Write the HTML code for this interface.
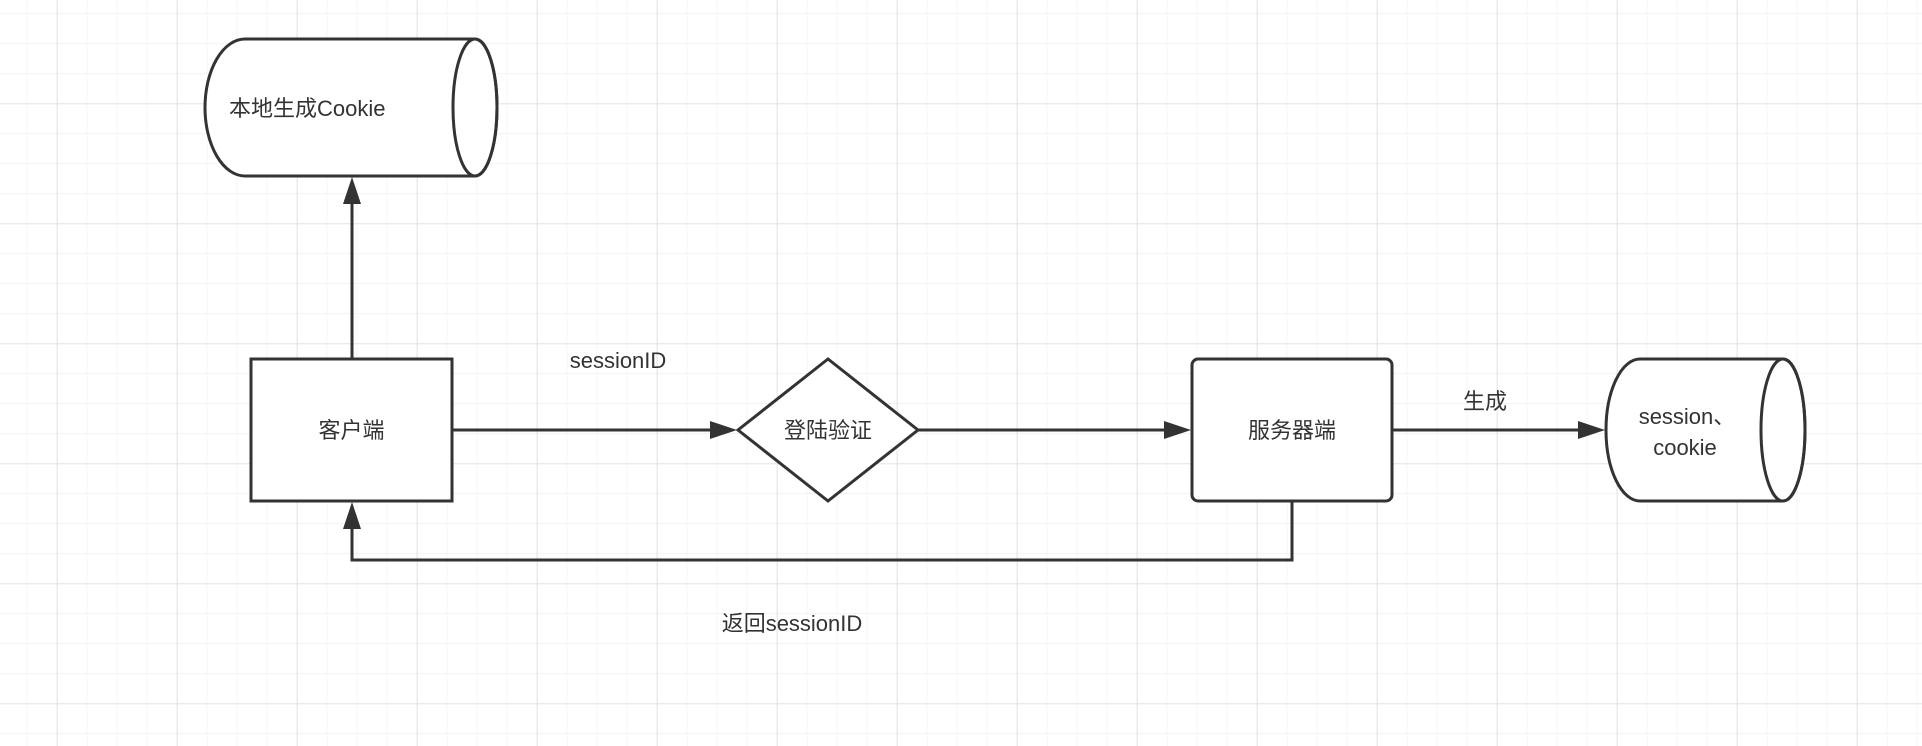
<!DOCTYPE html>
<html><head><meta charset="utf-8"><style>
html,body{margin:0;padding:0;background:#fff;}
svg{display:block;}
text{font-family:"Liberation Sans","Noto Sans CJK SC",sans-serif;font-size:22px;fill:#333;}
</style></head><body>
<svg width="1922" height="746" viewBox="0 0 1922 746" xmlns="http://www.w3.org/2000/svg">
<defs>
<pattern id="minor" x="26.7" y="13.3" width="30" height="30" patternUnits="userSpaceOnUse">
<path d="M0 0V30M0 0H30" stroke="#ececec" stroke-width="1.2" fill="none"/>
</pattern>
<pattern id="major" x="56.7" y="103.3" width="120" height="120" patternUnits="userSpaceOnUse">
<path d="M0 0V120M0 0H120" stroke="#e4e4e4" stroke-width="2" fill="none"/>
</pattern>
<marker id="ah" markerWidth="10" markerHeight="10" refX="9" refY="5" orient="auto" markerUnits="userSpaceOnUse">
</marker>
</defs>
<rect width="1922" height="746" fill="url(#minor)"/>
<rect width="1922" height="746" fill="url(#major)"/>
<g stroke="#333" stroke-width="3" fill="none">
<!-- cylinder 1 -->
<path d="M245 39 H475 A22 68.5 0 0 1 475 176 H245 A40 68.5 0 0 1 245 39 Z" fill="#fff"/>
<ellipse cx="475" cy="107.5" rx="22" ry="68.5"/>
<!-- client -->
<rect x="251" y="359" width="201" height="142" fill="#fff"/>
<!-- diamond -->
<path d="M828 359 L918 430 L828 501 L738 430 Z" fill="#fff"/>
<!-- server -->
<rect x="1192" y="359" width="200" height="142" rx="6" fill="#fff"/>
<!-- cylinder 2 -->
<path d="M1640 359 H1783 A22 71 0 0 1 1783 501 H1640 A34 71 0 0 1 1640 359 Z" fill="#fff"/>
<ellipse cx="1783" cy="430" rx="22" ry="71"/>
<!-- connectors -->
<path d="M352 359 V195"/>
<path d="M452 430 H715"/>
<path d="M918 430 H1170"/>
<path d="M1392 430 H1584"/>
<path d="M1292 501 V560 H352 V520"/>
</g>
<g fill="#333">
<path d="M352 177 L343 204 L361 204 Z"/>
<path d="M737 430 L710 421 L710 439 Z"/>
<path d="M1191 430 L1164 421 L1164 439 Z"/>
<path d="M1605 430 L1578 421 L1578 439 Z"/>
<path d="M352 502 L343 529 L361 529 Z"/>
</g>
<text x="229" y="116">本地生成Cookie</text>
<text x="351.5" y="438" text-anchor="middle">客户端</text>
<text x="828" y="438" text-anchor="middle">登陆验证</text>
<text x="1292" y="438" text-anchor="middle">服务器端</text>
<text x="1687" y="424" text-anchor="middle">session、</text>
<text x="1685" y="455" text-anchor="middle">cookie</text>
<text x="618" y="368" text-anchor="middle">sessionID</text>
<text x="1485" y="409" text-anchor="middle">生成</text>
<text x="792" y="631" text-anchor="middle">返回sessionID</text>
</svg>
</body></html>
